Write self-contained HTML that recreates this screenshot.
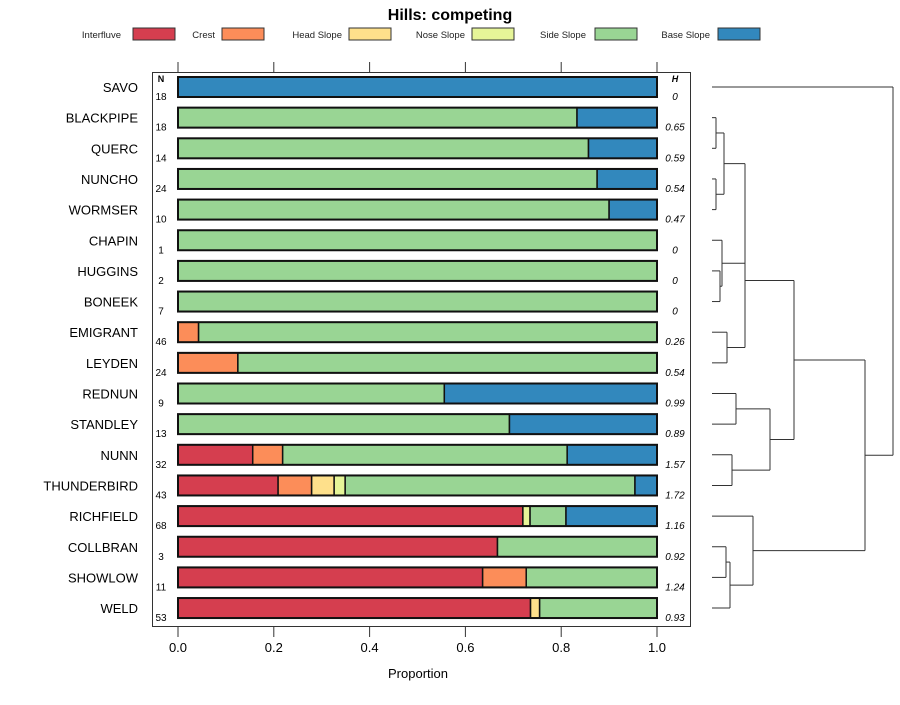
<!DOCTYPE html>
<html><head><meta charset="utf-8"><style>
body{margin:0;background:#fff}
svg{font-family:"Liberation Sans",sans-serif}
</style></head><body>
<svg id="c" width="900" height="700"></svg>
<script>
const names=["SAVO","BLACKPIPE","QUERC","NUNCHO","WORMSER","CHAPIN","HUGGINS","BONEEK","EMIGRANT","LEYDEN","REDNUN","STANDLEY","NUNN","THUNDERBIRD","RICHFIELD","COLLBRAN","SHOWLOW","WELD"];
const nVals=[18,18,14,24,10,1,2,7,46,24,9,13,32,43,68,3,11,53];
const hVals=["0","0.65","0.59","0.54","0.47","0","0","0","0.26","0.54","0.99","0.89","1.57","1.72","1.16","0.92","1.24","0.93"];
const classes=["Interfluve","Crest","Head Slope","Nose Slope","Side Slope","Base Slope"];
const colors=["#D53E4F","#FC8D59","#FEE08B","#E6F598","#99D594","#3288BD"];
const interfluve=[0,0,0,0,0,0,0,0,0,0,0,0,0.156,0.209,0.72,0.667,0.636,0.736];
const crest=[0,0,0,0,0,0,0,0,0.043,0.125,0,0,0.0625,0.07,0,0,0.091,0];
const headSlope=[0,0,0,0,0,0,0,0,0,0,0,0,0,0.047,0,0,0,0.019];
const noseSlope=[0,0,0,0,0,0,0,0,0,0,0,0,0,0.023,0.015,0,0,0];
const sideSlope=[0,0.833,0.857,0.875,0.9,1,1,1,0.957,0.875,0.556,0.692,0.594,0.605,0.075,0.333,0.273,0.245];
const baseSlope=[1,0.167,0.143,0.125,0.1,0,0,0,0,0,0.444,0.308,0.1875,0.046,0.19,0,0,0];
const ticks=[0,0.2,0.4,0.6,0.8,1.0];
const series=[interfluve,crest,headSlope,noseSlope,sideSlope,baseSlope];
const svg=document.getElementById('c');const NS="http://www.w3.org/2000/svg";
function el(t,a,txt){const e=document.createElementNS(NS,t);for(const k in a)e.setAttribute(k,a[k]);if(txt!==undefined)e.textContent=txt;svg.appendChild(e);return e;}
const X=v=>178+v*479, Y=i=>87+i*30.65;
let t=el('text',{x:450,y:20,'text-anchor':'middle','font-size':16,'font-weight':'bold'},'Hills: competing');


const legX=[[121,133],[215,222],[342,349],[465,472],[586,595],[710,718]];
classes.forEach((c,k)=>{
 let lt=el('text',{x:legX[k][0],y:38,'text-anchor':'end','font-size':9.5,fill:'#222'},c);
 
 
 let lr=el('rect',{x:legX[k][1],y:28,width:42,height:12,fill:colors[k],stroke:'#333','stroke-width':1});
 
 
});
let pb=el('rect',{x:152.5,y:72.5,width:538,height:554,fill:'none',stroke:'#333'});


ticks.forEach(v=>{
 el('line',{x1:X(v),x2:X(v),y1:62,y2:72,stroke:'#333'});
 el('line',{x1:X(v),x2:X(v),y1:627,y2:637,stroke:'#333'});
 let tl=el('text',{x:X(v),y:652,'text-anchor':'middle','font-size':13},v.toFixed(1));
 
 
});
let xt=el('text',{x:418,y:678,'text-anchor':'middle','font-size':13},'Proportion');


el('text',{x:161,y:82,'text-anchor':'middle','font-size':9,'font-weight':'bold'},'N');
el('text',{x:675,y:82,'text-anchor':'middle','font-size':9,'font-weight':'bold','font-style':'italic'},'H');
names.forEach((n,i)=>{
 const y=Y(i);
 let lab=el('text',{x:138,y:y+5,'text-anchor':'end','font-size':13},n);
 
 
 el('text',{x:161,y:y+13,'text-anchor':'middle','font-size':10},String(nVals[i]));
 el('text',{x:675,y:y+13,'text-anchor':'middle','font-size':10,'font-style':'italic'},hVals[i]);
 let acc=0;
 series.forEach((s,k)=>{
  if(s[i]>0){
   let r=el('rect',{x:X(acc),y:y-10,width:s[i]*479,height:20,fill:colors[k],stroke:'#111','stroke-width':1.5});
   
   
  }
  acc+=s[i];
 });
 let o=el('rect',{x:X(0),y:y-10,width:479,height:20,fill:'none',stroke:'#111','stroke-width':2});
 
 
});
// dendrogram: node = [left,right,height]
function leaf(i){return {y:Y(i),x:712};}
function join(a,b,h){
 el('line',{x1:a.x,x2:h,y1:a.y,y2:a.y,stroke:'#333'});
 el('line',{x1:b.x,x2:h,y1:b.y,y2:b.y,stroke:'#333'});
 el('line',{x1:h,x2:h,y1:a.y,y2:b.y,stroke:'#333'});
 return {x:h,y:(a.y+b.y)/2};
}
const A=join(leaf(1),leaf(2),716),B=join(leaf(3),leaf(4),716),AB=join(A,B,724);
const C=join(leaf(6),leaf(7),720),C2=join(leaf(5),C,722);
const D=join(leaf(8),leaf(9),727);
const ABC=join(AB,C2,745),ABCD=join(ABC,D,745);
const E=join(leaf(10),leaf(11),736),F=join(leaf(12),leaf(13),732),EF=join(E,F,770);
const G1=join(ABCD,EF,794);
const g=join(leaf(15),leaf(16),726),g2=join(g,leaf(17),730),G=join(leaf(14),g2,753);
const R=join(G1,G,865);
join(leaf(0),R,893);
</script>
</body></html>
